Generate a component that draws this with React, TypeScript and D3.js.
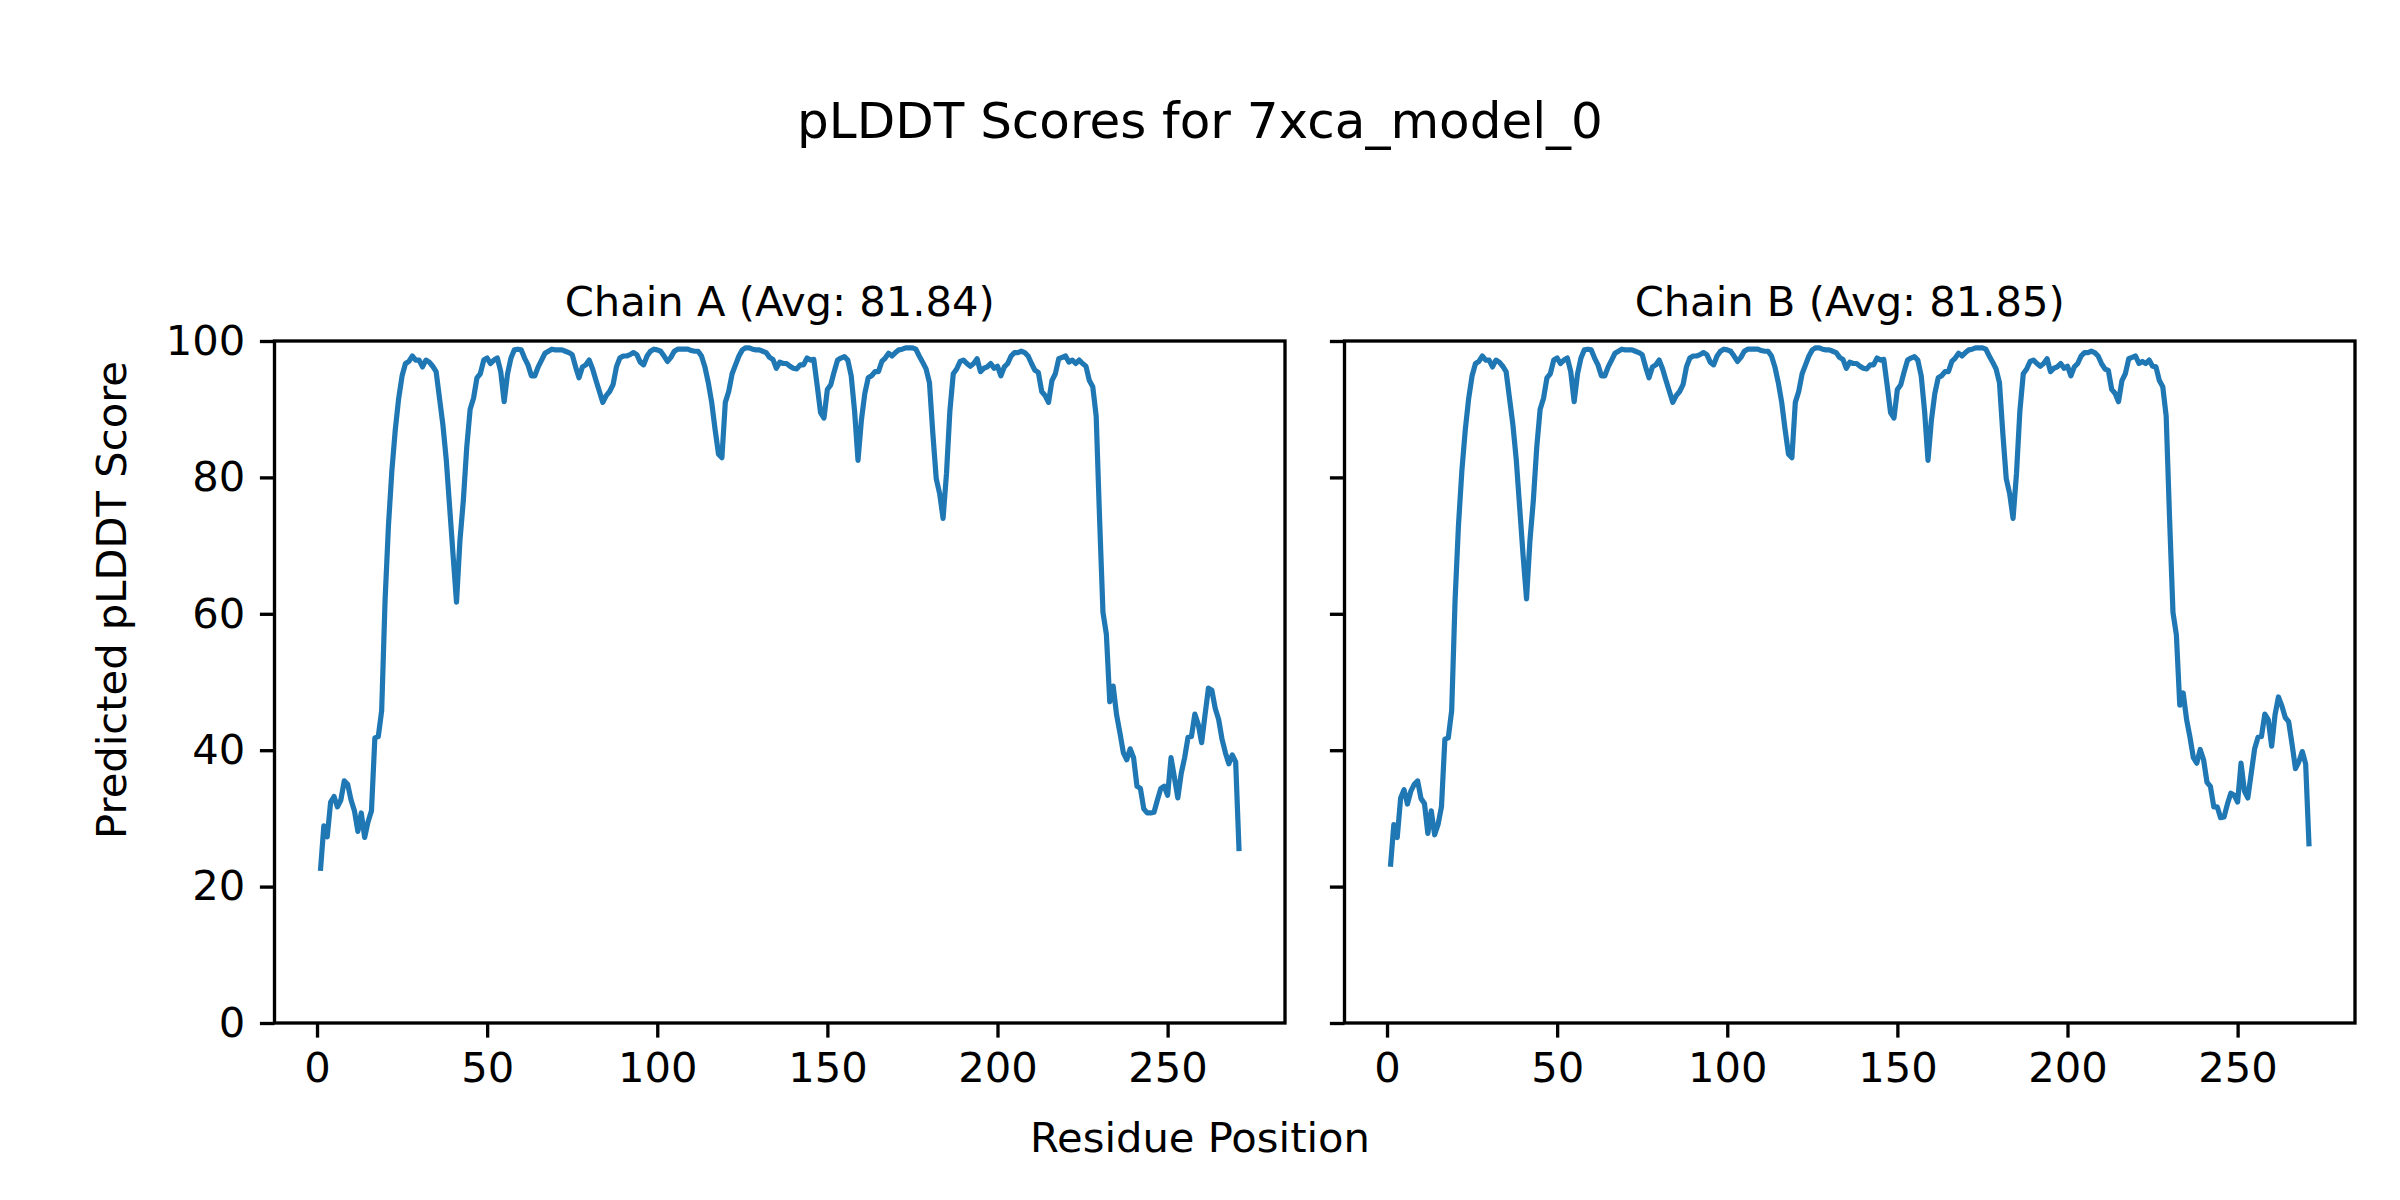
import { useEffect, useRef } from 'react';
import * as d3 from 'd3';

// pLDDT per residue (residues 1..271)
const chainA = [
  22.3, 28.9, 27.3, 32.4, 33.2, 31.7, 32.7, 35.5, 35.0, 32.7,
  31.1, 28.1, 30.8, 27.2, 29.5, 31.1, 41.8, 42.0, 45.8, 62.0,
  73.0, 81.0, 87.0, 91.6, 94.9, 96.7, 97.0, 97.8, 97.2, 97.2,
  96.2, 97.2, 96.9, 96.3, 95.5, 91.6, 87.7, 82.5, 75.5, 68.5,
  61.7, 70.7, 76.6, 84.4, 90.0, 91.6, 94.6, 95.2, 97.2, 97.5,
  96.7, 97.2, 97.5, 95.5, 91.1, 95.2, 97.5, 98.7, 98.8, 98.7,
  97.5, 96.5, 94.9, 94.9, 96.2, 97.2, 98.2, 98.5, 98.8, 98.7,
  98.7, 98.7, 98.5, 98.3, 98.0, 96.2, 94.6, 96.2, 96.5, 97.2,
  95.9, 94.2, 92.6, 91.0, 92.0, 92.6, 93.6, 96.2, 97.5, 97.8,
  97.8, 98.0, 98.3, 98.0, 96.9, 96.5, 97.8, 98.5, 98.8, 98.7,
  98.5, 97.8, 97.0, 97.6, 98.5, 98.8, 98.8, 98.8, 98.8, 98.6,
  98.5, 98.5, 97.8, 96.2, 93.9, 91.0, 87.0, 83.4, 82.9, 91.0,
  92.6, 95.2, 96.5, 97.8, 98.7, 99.0, 99.0, 98.8, 98.7, 98.7,
  98.5, 98.3, 97.6, 97.3, 96.0, 96.9, 96.7, 96.7, 96.3, 96.0,
  95.9, 96.5, 96.5, 97.5, 97.2, 97.3, 93.5, 89.5, 88.7, 92.9,
  93.6, 95.5, 97.2, 97.5, 97.7, 97.2, 94.9, 89.7, 82.5, 88.4,
  92.3, 94.6, 94.9, 95.5, 95.5, 97.0, 97.5, 98.2, 97.8, 98.3,
  98.7, 98.8, 99.0, 99.0, 99.0, 98.8, 97.8, 96.9, 95.9, 93.9,
  86.4, 79.8, 77.6, 74.0, 80.5, 89.7, 95.2, 95.9, 97.0, 97.2,
  96.7, 96.3, 96.7, 97.4, 95.5, 96.0, 96.2, 96.7, 96.0, 96.3,
  94.9, 96.2, 96.7, 97.8, 98.3, 98.3, 98.5, 98.3, 97.8, 96.7,
  95.7, 95.4, 92.6, 92.0, 91.0, 94.2, 95.2, 97.4, 97.6, 97.8,
  96.9, 97.2, 96.7, 97.2, 96.7, 96.3, 94.2, 93.3, 89.0, 74.0,
  60.2, 57.0, 47.1, 49.4, 45.2, 42.5, 39.6, 38.6, 40.2, 38.9,
  34.7, 34.4, 31.4, 30.8, 30.8, 30.9, 32.7, 34.4, 34.7, 33.4,
  38.9, 36.0, 33.0, 36.6, 38.9, 41.9, 42.0, 45.3, 43.8, 41.1,
  45.2, 49.1, 48.8, 46.1, 44.5, 41.6, 39.6, 38.0, 39.3, 38.3,
  25.2,
];

const chainB = [
  22.9, 29.1, 27.2, 33.0, 34.2, 32.1, 34.0, 35.0, 35.5, 32.9,
  32.2, 27.8, 31.1, 27.6, 29.1, 31.7, 41.6, 41.8, 45.8, 62.0,
  73.0, 81.0, 87.0, 91.6, 94.9, 96.7, 97.0, 97.8, 97.2, 97.2,
  96.2, 97.2, 96.9, 96.3, 95.5, 91.6, 87.7, 82.5, 75.5, 68.5,
  62.2, 70.7, 76.6, 84.4, 90.0, 91.6, 94.6, 95.2, 97.2, 97.5,
  96.7, 97.2, 97.5, 95.5, 91.1, 95.2, 97.5, 98.7, 98.8, 98.7,
  97.5, 96.5, 94.9, 94.9, 96.2, 97.2, 98.2, 98.5, 98.8, 98.7,
  98.7, 98.7, 98.5, 98.3, 98.0, 96.2, 94.6, 96.2, 96.5, 97.2,
  95.9, 94.2, 92.6, 91.0, 92.0, 92.6, 93.6, 96.2, 97.5, 97.8,
  97.8, 98.0, 98.3, 98.0, 96.9, 96.5, 97.8, 98.5, 98.8, 98.7,
  98.5, 97.8, 97.0, 97.6, 98.5, 98.8, 98.8, 98.8, 98.8, 98.6,
  98.5, 98.5, 97.8, 96.2, 93.9, 91.0, 87.0, 83.4, 82.9, 91.0,
  92.6, 95.2, 96.5, 97.8, 98.7, 99.0, 99.0, 98.8, 98.7, 98.7,
  98.5, 98.3, 97.6, 97.3, 96.0, 96.9, 96.7, 96.7, 96.3, 96.0,
  95.9, 96.5, 96.5, 97.5, 97.2, 97.3, 93.5, 89.5, 88.7, 92.9,
  93.6, 95.5, 97.2, 97.5, 97.7, 97.2, 94.9, 89.7, 82.5, 88.4,
  92.3, 94.6, 94.9, 95.5, 95.5, 97.0, 97.5, 98.2, 97.8, 98.3,
  98.7, 98.8, 99.0, 99.0, 99.0, 98.8, 97.8, 96.9, 95.9, 93.9,
  86.4, 79.8, 77.6, 74.0, 80.5, 89.7, 95.2, 95.9, 97.0, 97.2,
  96.7, 96.3, 96.7, 97.4, 95.5, 96.0, 96.2, 96.7, 96.0, 96.3,
  94.9, 96.2, 96.7, 97.8, 98.3, 98.3, 98.5, 98.3, 97.8, 96.7,
  95.9, 95.7, 92.9, 92.3, 91.1, 94.2, 95.2, 97.4, 97.6, 97.8,
  96.7, 97.0, 96.7, 97.2, 96.3, 96.2, 94.2, 93.3, 89.0, 74.0,
  60.2, 56.9, 46.6, 48.4, 44.5, 41.9, 38.9, 38.1, 40.1, 38.6,
  35.3, 34.7, 31.7, 31.7, 30.1, 30.2, 32.1, 33.7, 33.4, 32.4,
  38.1, 34.0, 33.0, 36.6, 40.2, 41.9, 42.0, 45.3, 44.5, 40.6,
  45.2, 47.8, 46.5, 44.8, 44.2, 40.9, 37.3, 38.3, 39.8, 38.0,
  25.9,
];

const chainNames = ['Chain A', 'Chain B'];
const chainAvgs = ['81.84', '81.85'];
const xTicks = [0, 50, 100, 150, 200, 250];
const yTicks = [0, 20, 40, 60, 80, 100];

const W = 2400;
const H = 1200;
const FONT = '"DejaVu Sans", sans-serif';
const LINE = '#1f77b4';

export default function App() {
  const svgRef = useRef<SVGSVGElement>(null);

  useEffect(() => {
    if (!svgRef.current) return;
    const svg = d3.select(svgRef.current);
    svg.selectAll('*').remove();

    const top = 341;
    const bottom = 1023;
    const panels = [
      { left: 274.5, right: 1285, data: chainA },
      { left: 1344.5, right: 2355, data: chainB },
    ];

    const n = chainA.length;
    const pad = 0.05 * (n - 1);
    const y = d3.scaleLinear().domain([0, 100]).range([bottom, top]);

    panels.forEach((p, k) => {
      const x = d3
        .scaleLinear()
        .domain([1 - pad, n + pad])
        .range([p.left, p.right]);

      const g = svg.append('g');

      const line = d3
        .line<number>()
        .x((_, i) => x(i + 1))
        .y((d) => y(d));

      g.append('path')
        .datum(p.data)
        .attr('fill', 'none')
        .attr('stroke', LINE)
        .attr('stroke-width', 5.2)
        .attr('stroke-linejoin', 'round')
        .attr('stroke-linecap', 'butt')
        .attr('d', line);

      const xAxis = g
        .append('g')
        .attr('transform', `translate(0,${bottom})`)
        .call(d3.axisBottom(x).tickValues(xTicks).tickSize(14.6).tickSizeOuter(0).tickPadding(14.6));
      const yAxis = g
        .append('g')
        .attr('transform', `translate(${p.left},0)`)
        .call(
          d3
            .axisLeft(y)
            .tickValues(yTicks)
            .tickSize(14.6)
            .tickSizeOuter(0)
            .tickPadding(14.6)
            .tickFormat((d) => (k === 0 ? String(d) : ''))
        );

      [xAxis, yAxis].forEach((a) => {
        a.select('.domain').remove();
        a.selectAll('line').attr('stroke', '#000').attr('stroke-width', 3.33);
        a.selectAll('text')
          .attr('fill', '#000')
          .style('font-family', FONT)
          .style('font-size', '41.67px');
      });

      g.append('rect')
        .attr('x', p.left)
        .attr('y', top)
        .attr('width', p.right - p.left)
        .attr('height', bottom - top)
        .attr('fill', 'none')
        .attr('stroke', '#000')
        .attr('stroke-width', 3.33);

      g.append('text')
        .attr('x', (p.left + p.right) / 2)
        .attr('y', 316)
        .attr('text-anchor', 'middle')
        .style('font-family', FONT)
        .style('font-size', '41.67px')
        .text(`${chainNames[k]} (Avg: ${chainAvgs[k]})`);
    });

    svg.append('text')
      .attr('x', W / 2)
      .attr('y', 138)
      .attr('text-anchor', 'middle')
      .style('font-family', FONT)
      .style('font-size', '50px')
      .text('pLDDT Scores for 7xca_model_0');

    svg.append('text')
      .attr('x', W / 2)
      .attr('y', 1152)
      .attr('text-anchor', 'middle')
      .style('font-family', FONT)
      .style('font-size', '41.67px')
      .text('Residue Position');

    svg.append('text')
      .attr('transform', `translate(126,${H / 2}) rotate(-90)`)
      .attr('text-anchor', 'middle')
      .style('font-family', FONT)
      .style('font-size', '41.67px')
      .text('Predicted pLDDT Score');
  }, []);

  return (
    <svg
      ref={svgRef}
      width={W}
      height={H}
      style={{ position: 'absolute', left: 0, top: 0, background: '#fff', display: 'block' }}
    />
  );
}
